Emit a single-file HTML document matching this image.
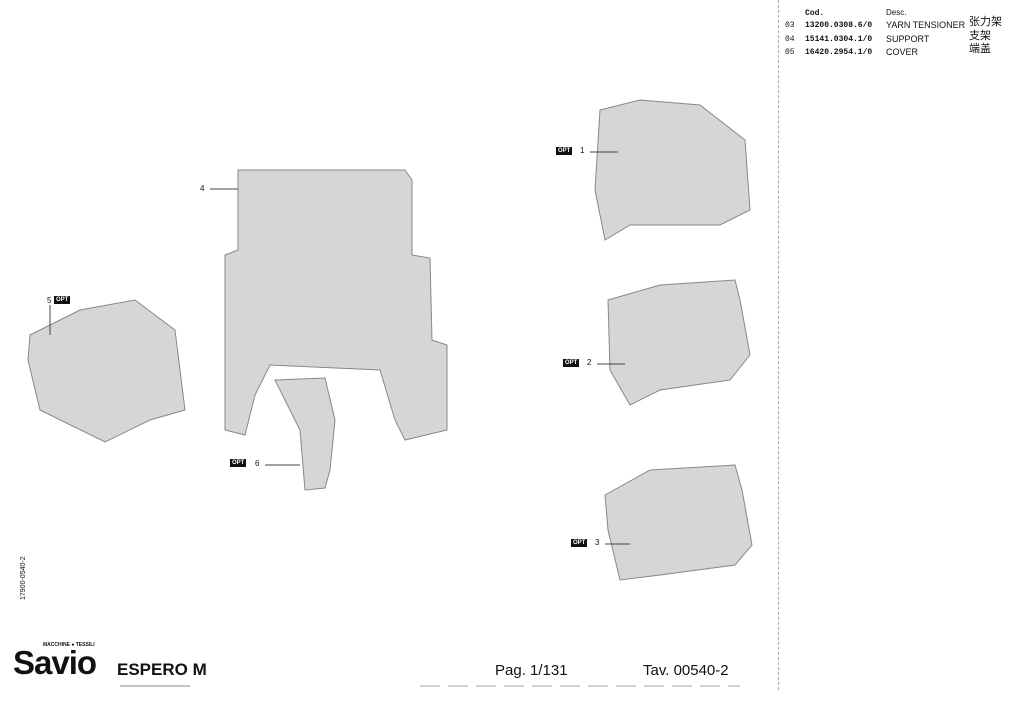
<!DOCTYPE html>
<html><head><style>
body{margin:0;width:1024px;height:704px;background:#fff;position:relative;overflow:hidden;font-family:"Liberation Sans","Noto Sans CJK SC",sans-serif;color:#111}
.a{position:absolute;white-space:nowrap}
.m{font-family:"Liberation Mono",monospace;font-weight:bold;font-size:8px}
.opt{position:absolute;background:#111;color:#fff;font-size:6px;font-weight:bold;padding:0 2px;line-height:8px}
.c{font-size:11px;line-height:12px}
</style></head><body>
<div class="a" style="left:778px;top:0;width:1px;height:690px;border-left:1px dashed #aaa"></div>
<div class="a m" style="left:805px;top:9px">Cod.</div>
<div class="a" style="left:886px;top:8px;font-size:8px">Desc.</div>
<div class="a m" style="left:785px;top:21px;font-weight:normal">03</div><div class="a m" style="left:805px;top:21px">13200.0308.6/0</div><div class="a" style="left:886px;top:20px;font-size:9px">YARN TENSIONER</div><div class="a c" style="left:969px;top:16px">张力架</div>
<div class="a m" style="left:785px;top:35px;font-weight:normal">04</div><div class="a m" style="left:805px;top:35px">15141.0304.1/0</div><div class="a" style="left:886px;top:34px;font-size:9px">SUPPORT</div><div class="a c" style="left:969px;top:30px">支架</div>
<div class="a m" style="left:785px;top:48px;font-weight:normal">05</div><div class="a m" style="left:805px;top:48px">16420.2954.1/0</div><div class="a" style="left:886px;top:47px;font-size:9px">COVER</div><div class="a c" style="left:969px;top:43px">端盖</div>

<svg class="a" style="left:0;top:0" width="780" height="704">
<g fill="#d6d6d6" stroke="#888" stroke-width="1">
<path d="M238 170 L405 170 L412 180 L412 255 L430 258 L432 340 L447 345 L447 430 L405 440 L395 420 L380 370 L270 365 L255 395 L245 435 L225 430 L225 255 L238 250 Z"/>
<path d="M30 335 L80 310 L135 300 L175 330 L185 410 L150 420 L105 442 L40 410 L28 360 Z"/>
<path d="M275 380 L325 378 L335 420 L330 470 L325 488 L305 490 L300 430 L285 400 Z"/>
<path d="M600 110 L640 100 L700 105 L745 140 L750 210 L720 225 L630 225 L605 240 L595 190 Z"/>
<path d="M608 300 L660 285 L735 280 L740 300 L750 355 L730 380 L660 390 L630 405 L610 370 Z"/>
<path d="M605 495 L650 470 L735 465 L742 490 L752 545 L735 565 L660 575 L620 580 L608 530 Z"/>
</g>
<g stroke="#444" stroke-width="1">
<line x1="210" y1="189" x2="238" y2="189"/><line x1="50" y1="305" x2="50" y2="335"/>
<line x1="265" y1="465" x2="300" y2="465"/><line x1="590" y1="152" x2="618" y2="152"/>
<line x1="597" y1="364" x2="625" y2="364"/><line x1="605" y1="544" x2="630" y2="544"/>
<line x1="120" y1="686" x2="190" y2="686" stroke="#888"/><line x1="420" y1="686" x2="740" y2="686" stroke="#aaa" stroke-dasharray="20 8"/>
</g>
</svg>
<div class="a" style="left:200px;top:184px;font-size:8px">4</div>
<div class="a" style="left:47px;top:296px;font-size:8px">5</div><div class="opt" style="left:54px;top:296px">OPT</div>
<div class="opt" style="left:230px;top:459px">OPT</div><div class="a" style="left:255px;top:459px;font-size:8px">6</div>
<div class="opt" style="left:556px;top:147px">OPT</div><div class="a" style="left:580px;top:146px;font-size:8px">1</div>
<div class="opt" style="left:563px;top:359px">OPT</div><div class="a" style="left:587px;top:358px;font-size:8px">2</div>
<div class="opt" style="left:571px;top:539px">OPT</div><div class="a" style="left:595px;top:538px;font-size:8px">3</div>
<div class="a" style="left:20px;top:600px;font-size:7px;transform:rotate(-90deg);transform-origin:0 0">17900-0540-2</div>
<div class="a" style="left:43px;top:642px;font-size:5px;font-weight:bold">MACCHINE ● TESSILI</div>
<div class="a" style="left:13px;top:644px;font-size:33px;font-weight:bold;letter-spacing:-1px">Savio</div>
<div class="a" style="left:117px;top:660px;font-size:17px;font-weight:bold">ESPERO M</div>
<div class="a" style="left:495px;top:662px;font-size:15px">Pag. 1/131</div>
<div class="a" style="left:643px;top:662px;font-size:15px">Tav. 00540-2</div>
</body></html>
